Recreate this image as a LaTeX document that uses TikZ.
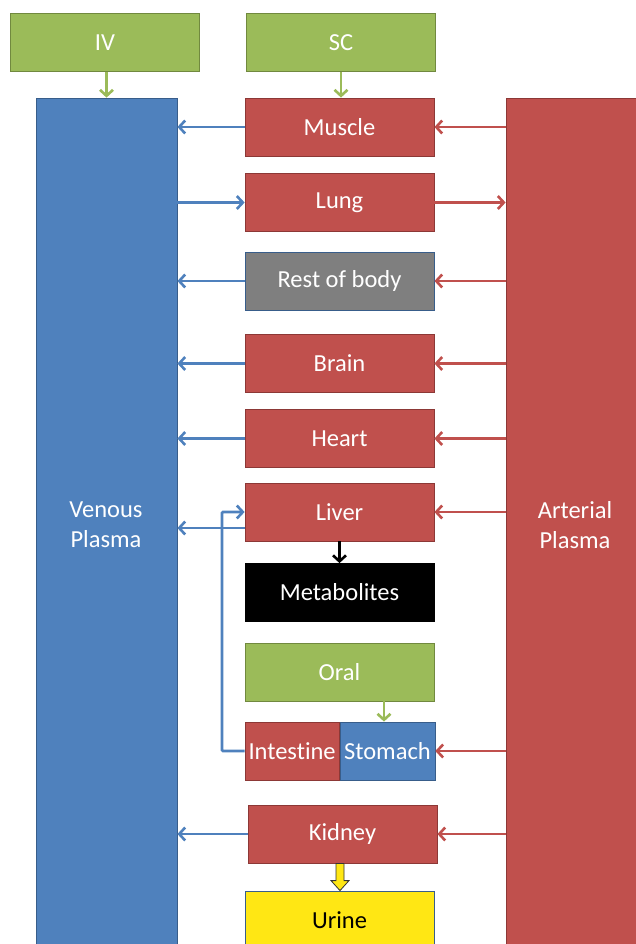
\documentclass[tikz,border=0pt]{standalone}
\usepackage{fontspec}
\setmainfont[Ligatures=NoCommon]{Carlito}
\usetikzlibrary{arrows.meta,calc}
\definecolor{cgreen}{HTML}{9BBB59}
\definecolor{cgreenB}{HTML}{71893F}
\definecolor{cred}{HTML}{C0504D}
\definecolor{credB}{HTML}{8C3836}
\definecolor{cblue}{HTML}{4F81BD}
\definecolor{cblueB}{HTML}{385D8A}
\definecolor{cgray}{HTML}{7F7F7F}
\definecolor{cyellow}{HTML}{FFE714}
\tikzset{
  box/.style={rectangle, inner sep=0pt, line width=0.8pt, minimum width=189pt, minimum height=58pt, font=\fontsize{24.5}{28}\selectfont, text=white},
  gbox/.style={box, fill=cgreen, draw=cgreenB},
  rbox/.style={box, fill=cred, draw=credB},
  arr/.style={line width=2.6pt, -{Straight Barb[length=6pt,width=13pt,line width=2.6pt]}},
  barr/.style={arr, draw=cblue},
  rarr/.style={arr, draw=cred},
  garr/.style={arr, draw=cgreen},
  plabel/.style={font=\fontsize{24.5}{30}\selectfont, text=white, align=center},
}
\begin{document}
\begin{tikzpicture}[x=1pt,y=-1pt]
\useasboundingbox (0,0) rectangle (636,944);
% plasma columns
\node[box, fill=cblue, draw=cblueB, minimum width=141pt, minimum height=870pt] (venous) at (106.5,533) {};
\node[plabel] (venoustxt) at (106,525) {Venous\\Plasma};
\node[box, fill=cred, draw=credB, minimum width=140pt, minimum height=870pt] (arterial) at (576,533) {};
\node[plabel] (arterialtxt) at (575,525) {Arterial\\Plasma};
% top
\node[gbox] (iv) at (105,42.5) {IV};
\node[gbox] (sc) at (341,42.5) {SC};
% organs
\node[rbox] (muscle) at (339.5,127) {Muscle};
\node[rbox] (lung) at (339.5,202.5) {Lung};
\node[box, fill=cgray, draw=cblueB] (rest) at (339.5,281) {Rest of body};
\node[rbox] (brain) at (339.5,363.5) {Brain};
\node[rbox] (heart) at (339.5,438.5) {Heart};
\node[rbox] (liver) at (339.5,512) {Liver};
\node[box, fill=black, draw=black] (metab) at (339.5,592.5) {Metabolites};
\node[gbox] (oral) at (339.5,672) {Oral};
\node[rbox, minimum width=94pt, anchor=east] (intestine) at (339.5,751) {Intestine};
\node[box, fill=cblue, draw=cblueB, minimum width=95pt, anchor=west] (stomach) at (339.5,751) {Stomach};
\node[rbox] (kidney) at (342.5,834) {Kidney};
\node[box, fill=cyellow, draw=cblueB, text=black, minimum height=58pt] (urine) at (339.5,920) {Urine};
% green arrows
\draw[garr] (iv.south -| venous.north) -- (venous.north);
\draw[garr] (sc.south) -- (sc.south |- muscle.north);
\draw[garr] (oral.south -| 384,0) -- (384,0 |- stomach.north);
% organ -> venous
\draw[barr] (muscle.west) -- (muscle.west -| venous.east);
\draw[barr] (venous.east |- lung.west) -- (lung.west);
\draw[rarr] (lung.east) -- (lung.east -| arterial.west);
\draw[barr] (rest.west) -- (rest.west -| venous.east);
\draw[barr] (brain.west) -- (brain.west -| venous.east);
\draw[barr] (heart.west) -- (heart.west -| venous.east);
\coordinate (liverout) at ($(liver.west)+(0,16)$);
\draw[barr] (liverout) -- (liverout -| venous.east);
\coordinate (portal) at (222,0);
\draw[barr, rounded corners=1pt] (intestine.west) -- (portal |- intestine.west) -- (portal |- liver.west) -- (liver.west);
\draw[barr] (kidney.west) -- (kidney.west -| venous.east);
% arterial -> organ
\draw[rarr] (arterial.west |- muscle.east) -- (muscle.east);
\draw[rarr] (arterial.west |- rest.east) -- (rest.east);
\draw[rarr] (arterial.west |- brain.east) -- (brain.east);
\draw[rarr] (arterial.west |- heart.east) -- (heart.east);
\draw[rarr] (arterial.west |- liver.east) -- (liver.east);
\draw[rarr] (arterial.west |- stomach.east) -- (stomach.east);
\draw[rarr] (arterial.west |- kidney.east) -- (kidney.east);
% liver -> metabolites
\draw[arr, draw=black] (liver.south) -- (metab.north);
% kidney -> urine block arrow
\coordinate (ua) at (340,0 |- kidney.south);
\coordinate (ub) at (340,0 |- urine.north);
\draw[fill=cyellow, draw=black!80, line width=0.8pt]
  ($(ua)+(-4,0)$) -- ($(ub)+(-4,-10)$) -- ($(ub)+(-9,-10)$) -- (ub) -- ($(ub)+(9,-10)$) -- ($(ub)+(4,-10)$) -- ($(ua)+(4,0)$) -- cycle;
\end{tikzpicture}
\end{document}
